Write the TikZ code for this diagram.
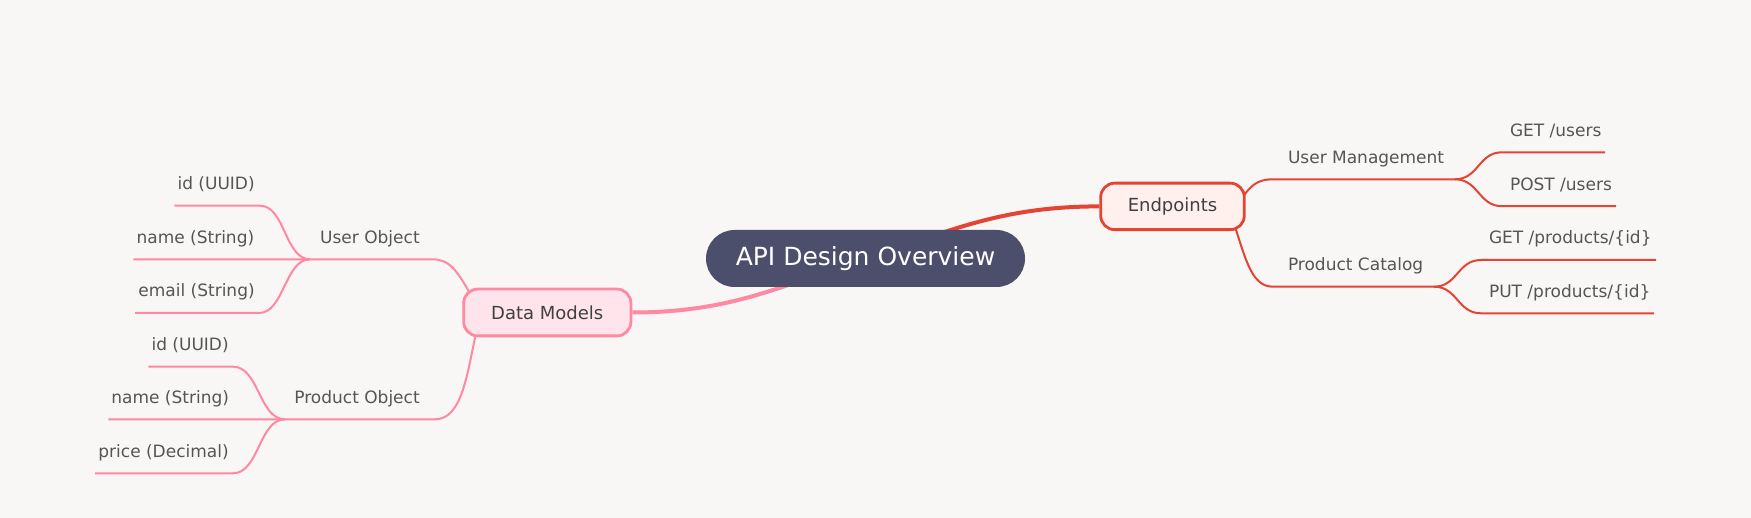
\documentclass[tikz,border=0pt]{standalone}
\usepackage{fontspec}
\setmainfont{DejaVu Sans}
\usetikzlibrary{calc}
\definecolor{bgc}{RGB}{249,247,245}
\definecolor{rootc}{RGB}{75,79,107}
\definecolor{redc}{RGB}{228,68,52}
\definecolor{redfill}{RGB}{255,240,238}
\definecolor{pinkc}{RGB}{255,136,163}
\definecolor{pinkfill}{RGB}{255,229,235}
\definecolor{txtc}{RGB}{85,85,85}
\definecolor{boxtxt}{RGB}{64,64,64}
\pgfdeclarelayer{back}
\pgfdeclarelayer{links}
\pgfsetlayers{back,links,main}
\begin{document}
\begin{tikzpicture}[x=1pt,y=-1pt,
  mainred/.style={draw=redc,line width=4pt},
  mainpink/.style={draw=pinkc,line width=4pt},
  subred/.style={draw=redc,line width=2pt},
  subpink/.style={draw=pinkc,line width=2pt},
  leaftext/.style={inner sep=0pt,outer sep=0pt,text=txtc,font=\fontsize{17}{20}\selectfont},
  branchbox/.style={rounded corners=14pt,line width=2.8pt,inner sep=0pt,font=\fontsize{18}{21}\selectfont,text=boxtxt},
  rootbox/.style={fill=rootc,rounded corners=28.5pt,inner sep=0pt,minimum width=319pt,minimum height=57pt,text=white,font=\fontsize{25}{30}\selectfont},
]
\begin{pgfonlayer}{back}
\fill[bgc] (0,0) rectangle (1751,518);
\end{pgfonlayer}
\useasboundingbox (0,0) rectangle (1751,518);

% main nodes
\node[rootbox] (root) at (865.5,258.5) {API Design Overview};
\node[branchbox,draw=redc,fill=redfill,minimum width=143.6pt,minimum height=46.5pt] (ep) at (1172.5,206.4) {Endpoints};
\node[branchbox,draw=pinkc,fill=pinkfill,minimum width=167.2pt,minimum height=46.8pt] (dm) at (547.3,312.5) {Data Models};

% right side texts
\node[leaftext,anchor=base west] (tum) at (1288,163.5) {User Management};
\node[leaftext,anchor=base west] (tpc) at (1288,270.7) {Product Catalog};
\node[leaftext,anchor=base west] (tgu) at (1510,136.5) {GET /users};
\node[leaftext,anchor=base west] (tpu) at (1510,190.3) {POST /users};
\node[leaftext,anchor=base west] (tgp) at (1489,244) {GET /products/\{id\}};
\node[leaftext,anchor=base west] (tpp) at (1489,297.3) {PUT /products/\{id\}};

% left side texts
\node[leaftext,anchor=base east] (tuo) at (419.7,243.3) {User Object};
\node[leaftext,anchor=base east] (tpo) at (419.7,403.3) {Product Object};
\node[leaftext,anchor=base east] (tid1) at (254.7,189.7) {id (UUID)};
\node[leaftext,anchor=base east] (tnm1) at (254.2,243.3) {name (String)};
\node[leaftext,anchor=base east] (tem1) at (254.7,297) {email (String)};
\node[leaftext,anchor=base east] (tid2) at (228.7,350.7) {id (UUID)};
\node[leaftext,anchor=base east] (tnm2) at (229,403.3) {name (String)};
\node[leaftext,anchor=base east] (tpr2) at (228.7,457.3) {price (Decimal)};

% line end coordinates
\coordinate (umL) at (1273,179.3);  \coordinate (umR) at (1455,179.3);
\coordinate (guL) at (1502,152.3);  \coordinate (guR) at (1605,152.3);
\coordinate (puL) at (1502,206.2);  \coordinate (puR) at (1616,206.2);
\coordinate (pcL) at (1273,286.7);  \coordinate (pcR) at (1434,286.7);
\coordinate (gpL) at (1481,260);    \coordinate (gpR) at (1656,260);
\coordinate (ppL) at (1481,313.3);  \coordinate (ppR) at (1654,313.3);

\coordinate (uoR) at (433,259.3);   \coordinate (uoL) at (310,259.3);
\coordinate (id1R) at (260,205.7);  \coordinate (id1L) at (174.3,205.7);
\coordinate (nm1L) at (133.3,259.3);
\coordinate (em1R) at (259,313);    \coordinate (em1L) at (135,313);
\coordinate (poR) at (435,419.3);   \coordinate (poL) at (285,419.3);
\coordinate (id2R) at (233,366.7);  \coordinate (id2L) at (148.3,366.7);
\coordinate (nm2L) at (108.3,419.3);
\coordinate (pr2R) at (233,473.3);  \coordinate (pr2L) at (95,473.3);

\begin{pgfonlayer}{links}
% main links
\draw[mainred] (root.center) .. controls +(84,-27) and +(-99,0) .. (ep.west);
\draw[mainpink] (root.center) .. controls +(-84,27) and +(99,0) .. (dm.east);

% endpoints branch
\draw[subred] ($(ep.center)+(65.5,-2.4)$) .. controls +(12,-18) and +(-17,0) .. (umL) -- (umR);
\draw[subred] (umR) .. controls +(23.5,0) and +(-23.5,0) .. (guL) -- (guR);
\draw[subred] (umR) .. controls +(23.5,0) and +(-23.5,0) .. (puL) -- (puR);
\draw[subred] ($(ep.center)+(59.5,11.6)$) .. controls +(13,37) and +(-23,0) .. (pcL) -- (pcR);
\draw[subred] (pcR) .. controls +(23.5,0) and +(-23.5,0) .. (gpL) -- (gpR);
\draw[subred] (pcR) .. controls +(23.5,0) and +(-23.5,0) .. (ppL) -- (ppR);

% data models branch
\draw[subpink] ($(dm.center)+(-75.3,-15.5)$) .. controls +(-14,-25) and +(17,0) .. (uoR) -- (uoL) -- (nm1L);
\draw[subpink] (uoL) .. controls +(-25,0) and +(25,0) .. (id1R) -- (id1L);
\draw[subpink] (uoL) .. controls +(-25,0) and +(25,0) .. (em1R) -- (em1L);
\draw[subpink] ($(dm.center)+(-70.3,15.5)$) .. controls +(-10,47) and +(27,0) .. (poR) -- (poL) -- (nm2L);
\draw[subpink] (poL) .. controls +(-26,0) and +(26,0) .. (id2R) -- (id2L);
\draw[subpink] (poL) .. controls +(-26,0) and +(26,0) .. (pr2R) -- (pr2L);
\end{pgfonlayer}
\end{tikzpicture}
\end{document}
